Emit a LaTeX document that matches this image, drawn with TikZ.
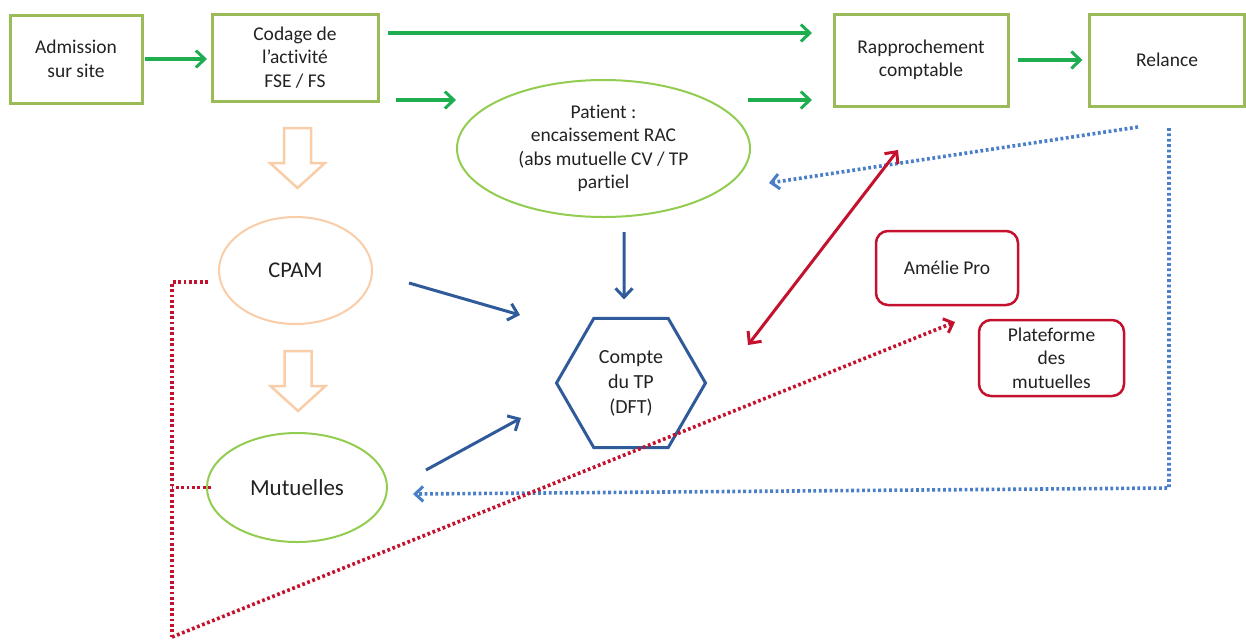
\documentclass[tikz,border=0pt]{standalone}
\usepackage{fontspec}
\setmainfont{Carlito}[RawFeature={-liga;-clig;-calt;-dlig}]
\usetikzlibrary{shapes.geometric,arrows.meta,calc}
\definecolor{boxgreen}{HTML}{9BBB59}
\definecolor{elgreen}{HTML}{92CC50}
\definecolor{argreen}{HTML}{1EAD4F}
\definecolor{orng}{HTML}{F9CDA8}
\definecolor{dblue}{HTML}{2F5B9A}
\definecolor{lblue}{HTML}{4A7EC7}
\definecolor{dred}{HTML}{C4122E}
\definecolor{txt}{HTML}{222222}
\tikzset{
  gbox/.style={draw=boxgreen, line width=3pt, align=center, inner sep=0pt, outer sep=0pt},
  rbox/.style={draw=dred, line width=2.5pt, rounded corners=12pt, align=center, inner sep=0pt, outer sep=0pt},
  gell/.style={ellipse, draw=elgreen, line width=2pt, align=center, inner sep=0pt, outer sep=0pt},
  oell/.style={ellipse, draw=orng, line width=2pt, align=center, inner sep=0pt, outer sep=0pt},
  hexa/.style={regular polygon, regular polygon sides=6, draw=dblue, line width=3pt, align=center, inner sep=0pt, outer sep=0pt, minimum size=149pt},
  garrow/.style={draw=argreen, line width=3.5pt, -{Straight Barb[length=9pt,width=17pt,line width=3pt]}},
  barrow/.style={draw=dblue, line width=3pt, -{Straight Barb[length=9pt,width=17pt,line width=3pt]}},
  bdots/.style={draw=lblue, line width=3.6pt, dash pattern=on 2.8pt off 2.6pt, -{Straight Barb[length=8pt,width=15pt,line width=3pt]}},
  rdots/.style={draw=dred, line width=3.6pt, dash pattern=on 2.8pt off 2.6pt},
  rarrow/.style={draw=dred, line width=3pt, {Straight Barb[length=9pt,width=17pt,line width=3pt]}-{Straight Barb[length=9pt,width=17pt,line width=3pt]}},
  hollow/.style={draw=orng, line width=2.5pt, fill=white, line join=miter},
}
\begin{document}
\begin{tikzpicture}[x=1pt,y=-1pt, font=\fontsize{19.5}{23.5}\selectfont, text=txt]
\useasboundingbox (0,0) rectangle (1246,641);

% nodes
\node[gbox, minimum width=132pt, minimum height=88pt] (adm) at (76,59) {Admission\\sur site};
\node[gbox, minimum width=166pt, minimum height=87pt] (cod) at (295,57.5) {Codage de\\l’activité\\FSE / FS};
\node[gbox, minimum width=174pt, minimum height=92pt] (rap) at (921,60) {Rapprochement\\comptable};
\node[gbox, minimum width=155pt, minimum height=92pt] (rel) at (1167,60) {Relance};
\node[gell, minimum width=293pt, minimum height=137pt] (pat) at (603.5,148.5) {Patient :\\encaissement RAC\\(abs mutuelle CV / TP\\partiel};
\node[oell, minimum width=153pt, minimum height=107pt, font=\fontsize{22.5}{27}\selectfont] (cpam) at (295.5,270.5) {CPAM};
\node[gell, minimum width=180pt, minimum height=109pt, font=\fontsize{23}{27}\selectfont] (mut) at (297,487.5) {Mutuelles};
\node[hexa, font=\fontsize{20}{25}\selectfont] (dft) at (631,383) {Compte\\du TP\\(DFT)};
\node[rbox, minimum width=142pt, minimum height=74pt] (ame) at (947,268) {Amélie Pro};
\node[rbox, minimum width=145pt, minimum height=76pt] (pla) at (1051.5,358) {Plateforme\\des\\mutuelles};

% green arrows
\draw[garrow, shorten <=3pt, shorten >=5pt] (adm.east) -- (adm.east -| cod.west);
\draw[garrow] ([shift={(10,-24.5)}]cod.east) -- ([shift={(-22,-27)}]rap.west);
\draw[garrow] ([shift={(18,-1)}]cod.south east) -- ([shift={(-1,-48.5)}]pat.west);
\draw[garrow] ([shift={(-86,40)}]rap.west) -- ([shift={(-22,40)}]rap.west);
\draw[garrow, shorten <=10pt, shorten >=7pt] (rap.east) -- (rel.west);

% orange hollow arrows
\foreach \src in {cod,cpam}{
  \draw[hollow] ([shift={(-11,27)}]\src.south) -- ++(27,0) -- ++(0,35) -- ++(14,0) -- ++(-27.5,25) -- ++(-27.5,-25) -- ++(14,0) -- cycle;
}

% blue arrows
\draw[barrow] ([shift={(20.5,15)}]pat.south) -- ([shift={(-7,-19)}]dft.north);
\draw[barrow] ([shift={(37,12.5)}]cpam.east) -- ([shift={(-36.5,-68)}]dft.west);
\draw[barrow] ([shift={(39,-17.5)}]mut.east) -- ([shift={(-35.5,35)}]dft.west);

% blue dotted
\draw[bdots] ([shift={(-29,21)}]rel.south) -- ([shift={(19,34.5)}]pat.east);
\draw[bdots] ([shift={(2,22)}]rel.south) -- ++(0,360) -- ([shift={(26,6.5)}]mut.east);

% red
\draw[rarrow] ([shift={(-23,44)}]rap.south) -- ([shift={(42.5,-38)}]dft.east);
\draw[rdots] ([shift={(-11,11.5)}]cpam.west) -- ++(-36,0) coordinate (rc) -- ++(0,355) coordinate (rb);
\draw[rdots, -{Straight Barb[length=8pt,width=15pt,line width=3pt]}] (rb) -- ([shift={(8,17)}]ame.south);
\draw[rdots] ([xshift=4pt]mut.west) -- (mut.west -| rc);
\end{tikzpicture}
\end{document}
